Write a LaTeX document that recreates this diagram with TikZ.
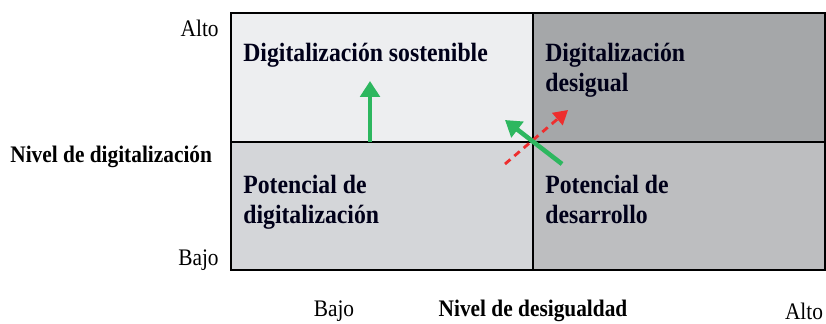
\documentclass[tikz,border=0pt]{standalone}
\usepackage{fontspec}
\setmainfont{Liberation Serif}[FakeStretch=0.9]
\usetikzlibrary{arrows.meta}

\definecolor{qsost}{HTML}{EDEEF0}
\definecolor{qdesi}{HTML}{A5A7A9}
\definecolor{qpdig}{HTML}{D4D6D9}
\definecolor{qpdes}{HTML}{BDBEC0}
\definecolor{flgreen}{HTML}{2DB75F}
\definecolor{flred}{HTML}{EE2E2E}

\tikzset{
  quad/.style={font=\bfseries\fontsize{15}{16.8}\selectfont, anchor=north west, align=left, inner sep=0pt, text=black!90!blue},
  axis/.style={font=\fontsize{13.5}{15}\selectfont, inner sep=0pt},
  axistitle/.style={font=\bfseries\fontsize{13.5}{15}\selectfont, inner sep=0pt},
  greenarrow/.style={draw=flgreen, line width=2.6pt, -{Triangle[length=9pt,width=11pt]}},
  redarrow/.style={draw=flred, line width=1.6pt, dash pattern=on 4pt off 3pt, -{Triangle[length=8pt,width=9pt]}},
}

\begin{document}
\begin{tikzpicture}
\useasboundingbox (0,0) rectangle (16.52,6.46);

% quadrants
\fill[qsost] (4.62,3.62) rectangle (10.66,6.20);
\fill[qdesi] (10.66,3.62) rectangle (16.50,6.20);
\fill[qpdig] (4.62,1.06) rectangle (10.66,3.62);
\fill[qpdes] (10.66,1.06) rectangle (16.50,3.62);

% frame and cross lines
\draw[line width=1.1pt] (4.62,1.06) rectangle (16.50,6.20);
\draw[line width=1.1pt] (10.66,1.06) -- (10.66,6.20); % vertical
\draw[line width=1.1pt] (4.62,3.62) -- (16.50,3.62);  % horizontal

% quadrant labels
\node[quad] (sost) at (4.86,5.60) {Digitalización sostenible};
\node[quad] (desi) at (10.90,5.60) {Digitalización\\desigual};
\node[quad] (pdig) at (4.86,2.96) {Potencial de\\digitalización};
\node[quad] (pdes) at (10.90,2.96) {Potencial de\\desarrollo};

% axes
\node[axis, anchor=east] (yalto) at (4.38,5.90) {Alto};
\node[axis, anchor=east] (ybajo) at (4.38,1.26) {Bajo};
\node[axistitle, anchor=west] (ytitle) at (0.20,3.32) {Nivel de digitalización};
\node[axis] (xbajo) at (6.68,0.24) {Bajo};
\node[axistitle] (xtitle) at (10.66,0.24) {Nivel de desigualdad};
\node[axis] (xalto) at (16.08,0.24) {Alto};

% arrows
\coordinate (g1s) at (7.40,3.62);
\coordinate (g1e) at (7.40,4.84);
\coordinate (g2s) at (11.24,3.18);
\coordinate (g2e) at (10.10,4.06);
\coordinate (rs) at (10.10,3.18);
\coordinate (re) at (11.36,4.26);
\draw[redarrow] (rs) -- (re);
\draw[greenarrow] (g1s) -- (g1e);
\draw[greenarrow] (g2s) -- (g2e);

\end{tikzpicture}
\end{document}
